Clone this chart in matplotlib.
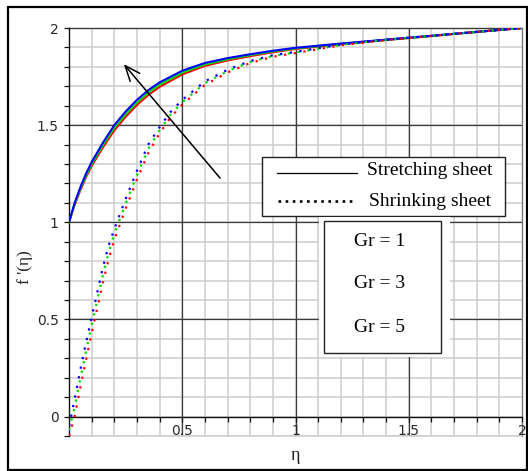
import numpy as np
import matplotlib
matplotlib.use("Agg")
import matplotlib.pyplot as plt
from matplotlib.patches import Rectangle
from matplotlib.lines import Line2D

# --- data -------------------------------------------------------------
eta_stretch = [0, 0.025, 0.05, 0.075, 0.1, 0.15, 0.2, 0.25, 0.3, 0.35, 0.4,
               0.5, 0.6, 0.7, 0.8, 0.9, 1.0, 1.2, 1.4, 1.6, 1.8, 2.0]
stretch_gr1 = [1.00, 1.09, 1.165, 1.232, 1.29, 1.386, 1.473, 1.543, 1.604, 1.655, 1.697,
               1.761, 1.805, 1.833, 1.855, 1.875, 1.892, 1.916, 1.938, 1.959, 1.98, 2.0]
stretch_gr3 = [1.00, 1.095, 1.172, 1.24, 1.30, 1.398, 1.487, 1.556, 1.617, 1.667, 1.708,
               1.77, 1.812, 1.839, 1.86, 1.879, 1.895, 1.918, 1.939, 1.959, 1.98, 2.0]
stretch_gr5 = [1.00, 1.10, 1.18, 1.25, 1.31, 1.41, 1.50, 1.57, 1.63, 1.68, 1.72,
               1.78, 1.82, 1.845, 1.865, 1.883, 1.898, 1.92, 1.94, 1.96, 1.98, 2.0]

eta_shrink = [0, 0.025, 0.05, 0.075, 0.1, 0.125, 0.15, 0.175, 0.2, 0.25, 0.3, 0.35,
              0.4, 0.45, 0.5, 0.6, 0.7, 0.8, 0.9, 1.0, 1.2, 1.4, 1.6, 1.8, 2.0]
shrink_gr1 = [-0.10, 0.00, 0.15, 0.29, 0.43, 0.56, 0.69, 0.81, 0.91, 1.07, 1.22, 1.356,
              1.458, 1.542, 1.606, 1.707, 1.771, 1.82, 1.852, 1.871, 1.911, 1.938, 1.959, 1.98, 2.0]
shrink_gr3 = [-0.07, 0.05, 0.195, 0.335, 0.47, 0.60, 0.73, 0.845, 0.94, 1.095, 1.243, 1.378,
              1.474, 1.556, 1.618, 1.716, 1.778, 1.825, 1.856, 1.874, 1.913, 1.939, 1.96, 1.98, 2.0]
shrink_gr5 = [-0.05, 0.09, 0.24, 0.38, 0.51, 0.64, 0.77, 0.88, 0.965, 1.12, 1.265, 1.40,
              1.49, 1.57, 1.63, 1.725, 1.785, 1.83, 1.86, 1.877, 1.915, 1.94, 1.96, 1.98, 2.0]

series_colors = ["#ff0000", "#00dd00", "#0000ff"]
gr_labels = ["Gr = 1", "Gr = 3", "Gr = 5"]
x_ticklabels = ["0.5", "1", "1.5", "2"]
y_ticklabels = ["0", "0.5", "1", "1.5", "2"]

# --- figure -----------------------------------------------------------
W, H = 528, 471
fig = plt.figure(figsize=(W / 100, H / 100), dpi=100)


def fpos(x, y):
    """pixel position -> figure fraction"""
    return x / W, 1 - y / H


ax_l, ax_r, ax_t, ax_b = 69, 522, 28, 436
ax = fig.add_axes([ax_l / W, 1 - ax_b / H, (ax_r - ax_l) / W, (ax_b - ax_t) / H])
ax.set_xlim(0, 2)
ax.set_ylim(-0.1, 2)

# grid
minor_col, major_col = "#cdcdcd", "#3c3c3c"
for v in np.arange(0.1, 2.0, 0.1):
    ax.axvline(v, color=minor_col, lw=1.1, zorder=0.5)
for v in np.arange(-0.1, 2.0, 0.1):
    ax.axhline(v, color=minor_col, lw=1.1, zorder=0.5)
for v in [0.5, 1.0, 1.5]:
    ax.axvline(v, color=major_col, lw=0.9, zorder=0.6)
for v in [0.5, 1.0, 1.5]:
    ax.axhline(v, color=major_col, lw=0.9, zorder=0.6)
ax.axhline(2.0, color=major_col, lw=1.0, zorder=0.6, clip_on=False)
ax.axvline(2.0, color="#777777", lw=1.0, zorder=0.6, clip_on=False)
ax.axhline(-0.1, color=minor_col, lw=1.1, zorder=0.6, clip_on=False)

for s in ["top", "right"]:
    ax.spines[s].set_visible(False)
ax.spines["bottom"].set_position(("data", 0))
ax.spines["bottom"].set_color("#111111")
ax.spines["left"].set_color("#111111")
ax.spines["bottom"].set_linewidth(1.0)
ax.spines["left"].set_linewidth(1.0)
ax.spines["bottom"].set_zorder(0.7)
ax.spines["left"].set_zorder(0.7)

ax.set_xticks([0.5, 1.0, 1.5, 2.0], x_ticklabels)
ax.set_xticks(np.arange(0.1, 2.0, 0.1), minor=True)
ax.set_yticks([0, 0.5, 1.0, 1.5, 2.0], y_ticklabels)
ax.set_yticks(np.arange(-0.1, 2.0, 0.1), minor=True)
ax.tick_params(axis="both", which="both", direction="out", color="#111111",
               width=0.9, length=3.5, labelsize=10, labelcolor="#2a2a2a")
ax.tick_params(axis="x", which="major", pad=1.5)
ax.tick_params(axis="y", which="major", pad=4)
ax.set_facecolor("white")

# curves
for eta, ys, c in zip([eta_stretch] * 3, [stretch_gr1, stretch_gr3, stretch_gr5], series_colors):
    ax.plot(eta, ys, color=c, lw=1.5, zorder=3, solid_joinstyle="round")
for eta, ys, c in zip([eta_shrink] * 3, [shrink_gr1, shrink_gr3, shrink_gr5], series_colors):
    ax.plot(eta, ys, color=c, lw=1.6, ls=(0, (1, 3.4)), zorder=3, clip_on=True)

# arrow showing increasing Gr
ax.annotate("", xy=(0.234, 1.825), xytext=(0.675, 1.2165),
            arrowprops=dict(arrowstyle="->,head_length=1.1,head_width=0.45",
                            color="black", lw=1.1), zorder=4)

serif = "Liberation Serif"

# axis titles
fig.text(*fpos(25, 267), "f '(η)", rotation=90, ha="center", va="center",
         family=serif, fontsize=12.5, color="#222222")
fig.text(*fpos(295, 455), "η", ha="center", va="center",
         family=serif, fontsize=13, color="#222222")

# line-style key
fig.patches.append(Rectangle(fpos(262, 216), (505 - 262) / W, (216 - 157) / H,
                             transform=fig.transFigure, facecolor="white",
                             edgecolor="#222222", lw=1.0, zorder=5))
fig.lines.append(Line2D([277 / W, 357 / W], [1 - 173 / H] * 2, transform=fig.transFigure,
                        color="black", lw=0.9, zorder=6))
fig.lines.append(Line2D([278 / W, 356 / W], [1 - 201 / H] * 2, transform=fig.transFigure,
                        color="black", lw=1.9, ls=(0, (1, 1.7)), zorder=6))
fig.text(*fpos(367, 171), "Stretching sheet", ha="left", va="center",
         family=serif, fontsize=14, color="black", zorder=6)
fig.text(*fpos(369, 202), "Shrinking sheet", ha="left", va="center",
         family=serif, fontsize=14, color="black", zorder=6)

# parameter key
fig.patches.append(Rectangle(fpos(319, 357), (450 - 319) / W, (357 - 217) / H,
                             transform=fig.transFigure, facecolor="white",
                             edgecolor="none", zorder=5))
fig.patches.append(Rectangle(fpos(324, 353), (441 - 324) / W, (353 - 221) / H,
                             transform=fig.transFigure, facecolor="white",
                             edgecolor="#222222", lw=1.0, zorder=5.5))
for lab, yp in zip(gr_labels, [241, 284, 327]):
    fig.text(*fpos(380, yp), lab, ha="center", va="center",
             family=serif, fontsize=14, color="black", zorder=6)

# outer frame
fig.patches.append(Rectangle(fpos(8, 470), (527 - 8) / W, (470 - 7) / H,
                             transform=fig.transFigure, facecolor="none",
                             edgecolor="black", lw=1.6, zorder=7))

fig.savefig("out.png", dpi=100, facecolor="white")
